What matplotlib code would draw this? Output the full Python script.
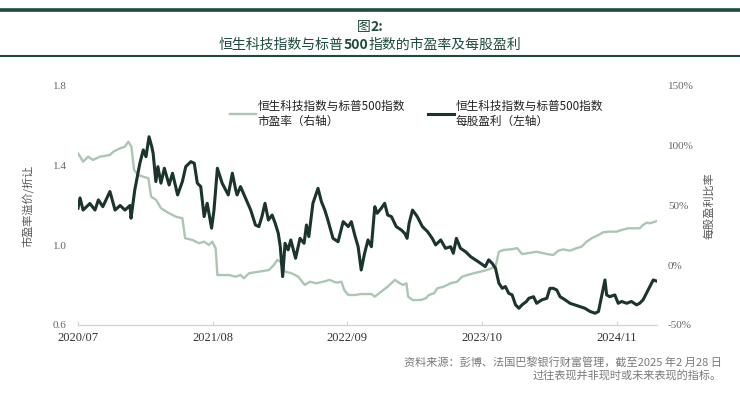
import matplotlib
matplotlib.use("Agg")
import matplotlib.pyplot as plt
import matplotlib.dates as mdates
from matplotlib.lines import Line2D
from matplotlib.ticker import FixedLocator
import pandas as pd

# ---------------- data ----------------
eps_dates = ["2020-07-01","2020-07-07","2020-07-16","2020-08-05","2020-08-20","2020-08-30","2020-09-12",
    "2020-10-03","2020-10-18","2020-11-02","2020-11-16","2020-12-01","2020-12-04","2020-12-15","2020-12-30",
    "2021-01-09","2021-01-17","2021-01-26","2021-02-03","2021-02-07","2021-02-15","2021-02-21","2021-03-02",
    "2021-03-12","2021-03-26","2021-04-05","2021-04-20","2021-05-04","2021-05-14","2021-05-29","2021-06-08",
    "2021-06-17","2021-06-27","2021-07-07","2021-07-16","2021-07-29","2021-08-05","2021-08-15","2021-08-29",
    "2021-09-16","2021-09-28","2021-10-08","2021-10-12","2021-10-22","2021-11-06","2021-11-21","2021-12-05",
    "2021-12-15","2021-12-24","2022-01-02","2022-01-12","2022-01-23","2022-02-01","2022-02-10","2022-02-16",
    "2022-02-23","2022-03-02","2022-03-11","2022-03-19","2022-04-02","2022-04-15","2022-04-27","2022-05-04",
    "2022-05-11","2022-05-23","2022-06-07","2022-06-17","2022-06-27","2022-07-06","2022-07-21","2022-08-05",
    "2022-08-20","2022-09-04","2022-09-13","2022-09-23","2022-10-03","2022-10-12","2022-10-22","2022-11-01",
    "2022-11-11","2022-11-21","2022-11-28","2022-12-10","2022-12-20","2022-12-29","2023-01-09","2023-01-23",
    "2023-02-07","2023-02-17","2023-02-24","2023-03-02","2023-03-12","2023-03-26","2023-04-10","2023-04-25",
    "2023-05-09","2023-05-19","2023-06-03","2023-06-17","2023-07-02","2023-07-10","2023-07-19","2023-07-31",
    "2023-08-15","2023-08-30","2023-09-13","2023-09-28","2023-10-12","2023-10-22","2023-11-01","2023-11-11",
    "2023-11-21","2023-12-01","2023-12-10","2023-12-20","2023-12-30","2024-01-09","2024-01-19","2024-01-28",
    "2024-02-10","2024-02-17","2024-03-02","2024-03-11","2024-03-26","2024-04-10","2024-04-19","2024-04-29",
    "2024-05-09","2024-05-19","2024-06-03","2024-06-17","2024-07-01","2024-07-16","2024-07-31","2024-08-15",
    "2024-08-30","2024-09-09","2024-09-19","2024-09-28","2024-10-03","2024-10-12","2024-10-27","2024-11-06",
    "2024-11-16","2024-12-01","2024-12-15","2024-12-30","2025-01-08","2025-01-18","2025-01-28","2025-02-07",
    "2025-02-17","2025-02-28"]
eps_values = [1.186,1.238,1.177,1.210,1.177,1.228,1.194,
    1.270,1.177,1.200,1.177,1.200,1.136,1.278,1.412,
    1.479,1.445,1.545,1.495,1.462,1.320,1.395,1.312,
    1.387,1.303,1.362,1.253,1.320,1.395,1.420,1.412,
    1.312,1.295,1.144,1.211,1.086,1.177,1.387,1.312,
    1.253,1.362,1.278,1.253,1.295,1.236,1.177,1.102,
    1.094,1.144,1.211,1.127,1.152,1.111,1.061,0.993,
    0.843,1.010,0.977,1.027,0.935,1.035,1.010,1.102,
    1.044,1.211,1.286,1.219,1.177,1.127,1.035,1.018,
    1.119,1.094,1.119,1.052,0.993,0.876,0.960,1.027,
    0.993,1.194,1.161,1.186,1.211,1.152,1.144,1.094,
    1.077,1.060,1.035,1.111,1.177,1.144,1.094,1.069,
    1.035,1.002,1.027,0.985,0.993,0.960,1.035,0.985,
    0.968,0.943,0.927,0.910,0.893,0.927,0.910,0.885,
    0.810,0.784,0.793,0.759,0.751,0.701,0.684,0.701,
    0.718,0.734,0.742,0.709,0.726,0.734,0.784,0.784,
    0.776,0.742,0.726,0.709,0.701,0.693,0.684,0.668,
    0.659,0.668,0.751,0.826,0.751,0.742,0.751,0.709,
    0.718,0.709,0.718,0.701,0.709,0.726,0.759,0.793,
    0.826,0.820]

pe_dates = ["2020-07-01","2020-07-16","2020-07-31","2020-08-14","2020-09-03","2020-10-03","2020-10-13",
    "2020-11-02","2020-11-16","2020-11-26","2020-12-05","2020-12-13","2020-12-25","2021-01-09","2021-01-24",
    "2021-02-01","2021-02-16","2021-03-02","2021-03-26","2021-04-15","2021-05-04","2021-05-12","2021-06-03",
    "2021-06-22","2021-07-07","2021-07-21","2021-07-31","2021-08-10","2021-08-15","2021-08-29","2021-09-18",
    "2021-10-08","2021-10-22","2021-11-01","2021-11-16","2021-12-15","2022-01-14","2022-01-28","2022-02-07",
    "2022-02-16","2022-03-02","2022-03-21","2022-04-10","2022-04-29","2022-05-14","2022-06-02","2022-06-22",
    "2022-07-11","2022-07-31","2022-08-15","2022-08-23","2022-09-04","2022-09-23","2022-10-12","2022-11-11",
    "2022-11-21","2022-12-10","2022-12-29","2023-01-19","2023-02-03","2023-02-12","2023-02-22","2023-02-27",
    "2023-03-12","2023-04-05","2023-04-20","2023-04-29","2023-05-14","2023-05-24","2023-06-12","2023-07-02",
    "2023-07-21","2023-08-05","2023-08-20","2023-09-08","2023-09-28","2023-10-17","2023-11-11","2023-11-21",
    "2023-12-05","2023-12-25","2024-01-14","2024-01-28","2024-02-12","2024-03-11","2024-04-10","2024-04-29",
    "2024-05-14","2024-05-28","2024-06-17","2024-07-06","2024-07-21","2024-08-05","2024-08-20","2024-09-09",
    "2024-09-23","2024-10-12","2024-11-01","2024-11-16","2024-12-05","2024-12-24","2025-01-08","2025-01-18",
    "2025-01-28","2025-02-07","2025-02-28"]
pe_values = [93.7,86.7,90.8,88.1,90.8,92.3,95.0,
    97.9,99.2,103.4,99.2,79.7,75.5,74.1,72.8,
    57.4,54.6,47.7,43.5,40.6,39.3,22.6,21.1,
    18.4,19.7,17.0,19.7,14.2,-8.2,-8.2,-8.2,
    -9.6,-8.2,-10.9,-6.7,-5.4,-4.0,0.2,4.4,
    3.0,-5.4,-6.7,-9.6,-16.5,-13.8,-15.1,-13.8,
    -12.3,-14.6,-13.8,-20.7,-24.9,-24.9,-24.1,-24.1,
    -26.3,-22.1,-17.9,-12.3,-15.1,-16.5,-15.1,-26.3,
    -29.1,-29.1,-27.7,-24.9,-23.5,-19.3,-17.9,-15.1,
    -13.8,-9.6,-8.2,-6.7,-5.4,-4.0,-1.2,11.3,
    12.8,13.3,14.2,9.4,10.0,11.3,9.4,8.6,
    12.2,13.3,12.2,14.2,15.5,19.7,22.6,25.3,
    27.6,28.1,28.1,29.5,30.9,30.9,30.9,33.7,
    35.6,35.1,37.0]

x_ticks = ["2020-07-01", "2021-08-01", "2022-09-01", "2023-10-01", "2024-11-01"]
x_tick_labels = ["2020/07", "2021/08", "2022/09", "2023/10", "2024/11"]
left_ticks = [0.6, 1.0, 1.4, 1.8]
right_ticks = [-50, 0, 50, 100, 150]

title_line1 = [("图", "normal"), ("2:", "bold")]
title_line2 = [("恒生科技指数与标普", "normal"), ("500", "bold"), ("指数的市盈率及每股盈利", "normal")]
legend_pe = "恒生科技指数与标普500指数\n市盈率（右轴）"
legend_eps = "恒生科技指数与标普500指数\n每股盈利（左轴）"
left_label = "市盈率溢价/折让"
right_label = "每股盈利比率"
source_lines = ["资料来源：彭博、法国巴黎银行财富管理，截至2025 年2 月28 日",
                "过往表现并非现时或未来表现的指标。"]

# ---------------- style ----------------
CJK = ["Noto Sans CJK SC", "DejaVu Sans"]
SERIF = ["Liberation Serif", "DejaVu Serif"]
plt.rcParams["font.family"] = CJK
DARK = "#1b342d"
LIGHT = "#abc6b3"
RULE = "#1d4a3d"
TITLE_C = "#1d4a3d"

fig = plt.figure(figsize=(7.4, 3.99), dpi=100)

# rules
fig.add_artist(Line2D([0, 1], [0.975, 0.975], transform=fig.transFigure, color=RULE, lw=2.6))
fig.add_artist(Line2D([0, 1], [0.8596, 0.8596], transform=fig.transFigure, color=RULE, lw=1.5))

renderer = fig.canvas.get_renderer()

def centered_pieces(pieces, y, size):
    texts = []
    for s, w in pieces:
        t = fig.text(0, y, s, fontsize=size, fontweight=w, color=TITLE_C,
                     ha="left", va="center", family=CJK)
        texts.append(t)
    widths = [t.get_window_extent(renderer).width for t in texts]
    total = sum(widths)
    W = fig.bbox.width
    x = (W - total) / 2
    for t, w in zip(texts, widths):
        t.set_x(x / W)
        x += w

centered_pieces(title_line1, 0.932, 10)
centered_pieces(title_line2, 0.888, 10)

ax = fig.add_axes([0.1054, 0.1855, 0.7824, 0.599])
ax2 = ax.twinx()

ed = pd.to_datetime(eps_dates)
pdts = pd.to_datetime(pe_dates)
l1, = ax2.plot(pdts, pe_values, color=LIGHT, lw=1.7, solid_joinstyle="round")
l2, = ax.plot(ed, eps_values, color=DARK, lw=2.2, solid_joinstyle="round")
ax.set_zorder(ax2.get_zorder() + 1)
ax.patch.set_visible(False)

ax.set_ylim(0.6, 1.8)
ax2.set_ylim(-50, 150)
ax.set_xlim(pd.Timestamp("2020-07-01"), pd.Timestamp("2025-02-28"))

for a in (ax, ax2):
    for side in ("top", "left", "right"):
        a.spines[side].set_visible(False)
ax2.spines["bottom"].set_visible(False)
ax.spines["bottom"].set_color("#d4d4d4")
ax.spines["bottom"].set_linewidth(1.0)

ax.xaxis.set_major_locator(FixedLocator(mdates.date2num(pd.to_datetime(x_ticks))))
ax.set_xticklabels(x_tick_labels, family=SERIF, fontsize=9, color="#333333")
ax.tick_params(axis="x", direction="in", length=3, color="#d4d4d4", pad=5)

ax.set_yticks(left_ticks)
ax.set_yticklabels([f"{v:.1f}" for v in left_ticks], family=SERIF, fontsize=8, color="#666666")
ax.tick_params(axis="y", length=0, pad=8)
ax2.set_yticks(right_ticks)
ax2.set_yticklabels([f"{v}%" for v in right_ticks], family=SERIF, fontsize=8, color="#666666")
ax2.tick_params(axis="y", length=0, pad=8)

ax.set_ylabel(left_label, fontsize=8, color="#555555", labelpad=13)
ax2.set_ylabel(right_label, fontsize=8, color="#555555", rotation=90, labelpad=7)

leg = ax.legend([l1, l2], [legend_pe, legend_eps], ncol=2, frameon=False,
                loc="center left", bbox_to_anchor=(0.245, 0.885),
                fontsize=8.4, handlelength=2.2, handletextpad=0.15, columnspacing=2.0,
                labelspacing=0.2)
for t in leg.get_texts():
    t.set_color("#222222")
    t.set_linespacing(1.2)

for i, s in enumerate(source_lines):
    fig.text(0.975, 0.093 - i * 0.034, s, ha="right", va="center", fontsize=8,
             color="#7a7a7a", family=CJK)

fig.savefig("out.png", dpi=100)
